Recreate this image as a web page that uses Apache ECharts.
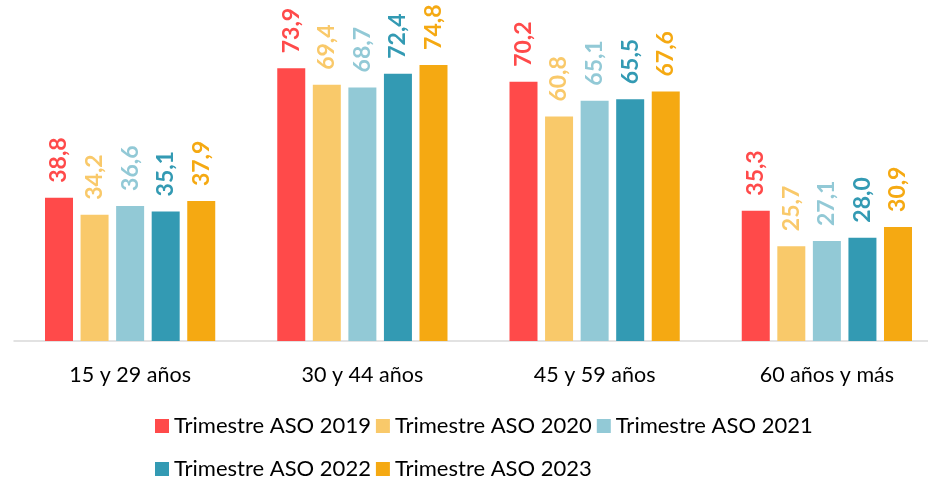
<!DOCTYPE html>
<html>
<head>
<meta charset="utf-8">
<script src="https://cdn.jsdelivr.net/npm/echarts@6/dist/echarts.min.js"></script>
<style>
  html, body { margin: 0; padding: 0; background: #fff; }
  #chart { width: 928px; height: 480px; }
</style>
</head>
<body>
<div id="chart"></div>
<script>
var categories = ['15 y 29 años', '30 y 44 años', '45 y 59 años', '60 años y más'];
var seriesNames = ['Trimestre ASO 2019', 'Trimestre ASO 2020', 'Trimestre ASO 2021', 'Trimestre ASO 2022', 'Trimestre ASO 2023'];
var aso2019 = [38.8, 73.9, 70.2, 35.3];
var aso2020 = [34.2, 69.4, 60.8, 25.7];
var aso2021 = [36.6, 68.7, 65.1, 27.1];
var aso2022 = [35.1, 72.4, 65.5, 28.0];
var aso2023 = [37.9, 74.8, 67.6, 30.9];
var colors = ['#FF4A4A', '#F9C96A', '#92C9D6', '#339AB3', '#F5A912'];

var myChart = echarts.init(document.getElementById('chart'));

var allData = [aso2019, aso2020, aso2021, aso2022, aso2023];
var series = [];
for (var i = 0; i < allData.length; i++) {
  series.push({
    name: seriesNames[i],
    type: 'bar',
    data: allData[i],
    barWidth: 28,
    barGap: '27%',
    itemStyle: { color: colors[i] },
    label: {
      show: true,
      position: 'top',
      rotate: 90,
      align: 'left',
      verticalAlign: 'middle',
      distance: 15,
      color: colors[i],
      fontFamily: 'Lato',
      fontWeight: 'bold',
      fontSize: 23,
      formatter: function (p) { return p.value.toFixed(1).replace('.', ','); }
    }
  });
}

var option = {
  animation: false,
  color: colors,
  grid: { left: 14, width: 929, top: 45.7, height: 295.3, outerBoundsMode: 'none' },
  legend: {
    left: 155,
    top: 407,
    width: 700,
    padding: 0,
    itemWidth: 14,
    itemHeight: 14,
    itemGap: 5,
    icon: 'rect',
    textStyle: { fontFamily: 'Lato', fontSize: 22, color: '#000', lineHeight: 38 },
    data: seriesNames
  },
  xAxis: {
    type: 'category',
    data: categories,
    axisLine: { lineStyle: { color: '#d9d9d9', width: 1.5 } },
    axisTick: { show: false },
    axisLabel: { fontFamily: 'Lato', fontSize: 21.5, color: '#000', margin: 23 }
  },
  yAxis: {
    type: 'value',
    min: 0,
    max: 80,
    show: false,
    splitLine: { show: false }
  },
  series: series
};

myChart.setOption(option);
</script>
</body>
</html>
